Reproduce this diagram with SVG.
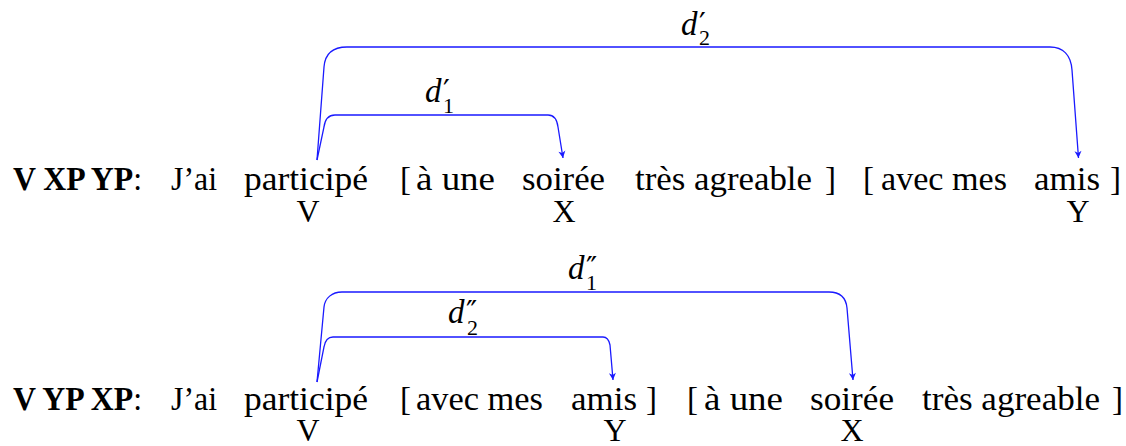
<svg xmlns="http://www.w3.org/2000/svg" width="1126" height="446" viewBox="0 0 1126 446">
<style>
.t{font-family:"Liberation Serif","Times New Roman",serif;font-size:33px;fill:#000}
.b{font-weight:bold}
.lab{font-family:"Liberation Serif","Times New Roman",serif;font-size:32px;fill:#000;text-anchor:middle}
.d{font-family:"Liberation Serif","Times New Roman",serif;font-size:33px;font-style:italic;fill:#000}
.sub{font-family:"Liberation Serif","Times New Roman",serif;font-size:22px;font-style:normal}
.pr{font-family:"DejaVu Sans",sans-serif;font-size:30px;font-style:normal}
.c{fill:none;stroke:#1a1aff;stroke-width:1.3}
</style>
<defs>
<marker id="ah" viewBox="-8 -4 9 8" refX="0" refY="0" markerWidth="9" markerHeight="8" markerUnits="userSpaceOnUse" orient="auto">
<path d="M0,0 L-7,-3.5 L-5,0 L-7,3.5 Z" fill="#1a1aff"/>
</marker>
</defs>
<g id="connectors">
<path class="c" marker-end="url(#ah)" d="M317,160 L324,67 C325,54 333,47 347,47 L1050,47 C1063,47 1071,55 1072,70 L1078.5,158"/>
<path class="c" marker-end="url(#ah)" d="M317,160 L324,127 C325,119 328,115 335,115 L548,115 C554,115 557,119 558,127 L563,158"/>
<path class="c" marker-end="url(#ah)" d="M317,382 L324,307 C325,298 332,292 342,292 L829,292 C840,292 846,298 847,308 L853,380"/>
<path class="c" marker-end="url(#ah)" d="M317,382 L324,347 C325,341 328,337 333,337 L603,337 C607,337 609,340 610,345 L613,380"/>
</g>
<g id="label-d2p">
<text class="d" x="681" y="35">d<tspan class="pr" x="699" y="34">′</tspan><tspan class="sub" x="699" y="45">2</tspan></text>
</g>
<g id="label-d1p">
<text class="d" x="425" y="102">d<tspan class="pr" x="443" y="101">′</tspan><tspan class="sub" x="443" y="113">1</tspan></text>
</g>
<g id="label-d1pp">
<text class="d" x="568" y="279">d<tspan class="pr" x="586" y="278">″</tspan><tspan class="sub" x="586" y="290">1</tspan></text>
</g>
<g id="label-d2pp">
<text class="d" x="448" y="323">d<tspan class="pr" x="466" y="322">″</tspan><tspan class="sub" x="467" y="335">2</tspan></text>
</g>
<g id="row1">
<text class="t" x="13" y="190" textLength="129" lengthAdjust="spacingAndGlyphs"><tspan class="b">V XP YP</tspan>:</text>
<text class="t" x="171" y="190" textLength="46" lengthAdjust="spacingAndGlyphs">J’ai</text>
<text class="t" x="244" y="190" textLength="124" lengthAdjust="spacingAndGlyphs">participé</text>
<text class="t" x="400" y="190">[</text>
<text class="t" x="416" y="190" textLength="79" lengthAdjust="spacingAndGlyphs">à une</text>
<text class="t" x="522" y="190" textLength="83" lengthAdjust="spacingAndGlyphs">soirée</text>
<text class="t" x="635" y="190" textLength="177" lengthAdjust="spacingAndGlyphs">très agreable</text>
<text class="t" x="825" y="190">]</text>
<text class="t" x="863" y="190">[</text>
<text class="t" x="881" y="190" textLength="126" lengthAdjust="spacingAndGlyphs">avec mes</text>
<text class="t" x="1034" y="190" textLength="66" lengthAdjust="spacingAndGlyphs">amis</text>
<text class="t" x="1110" y="190">]</text>
<text class="lab" x="308" y="222">V</text>
<text class="lab" x="564" y="222">X</text>
<text class="lab" x="1078" y="222">Y</text>
</g>
<g id="row2">
<text class="t" x="13" y="410" textLength="129" lengthAdjust="spacingAndGlyphs"><tspan class="b">V YP XP</tspan>:</text>
<text class="t" x="171" y="410" textLength="46" lengthAdjust="spacingAndGlyphs">J’ai</text>
<text class="t" x="244" y="410" textLength="124" lengthAdjust="spacingAndGlyphs">participé</text>
<text class="t" x="400" y="410">[</text>
<text class="t" x="416" y="410" textLength="127" lengthAdjust="spacingAndGlyphs">avec mes</text>
<text class="t" x="571" y="410" textLength="66" lengthAdjust="spacingAndGlyphs">amis</text>
<text class="t" x="646" y="410">]</text>
<text class="t" x="687" y="410">[</text>
<text class="t" x="704" y="410" textLength="79" lengthAdjust="spacingAndGlyphs">à une</text>
<text class="t" x="810" y="410" textLength="84" lengthAdjust="spacingAndGlyphs">soirée</text>
<text class="t" x="922" y="410" textLength="178" lengthAdjust="spacingAndGlyphs">très agreable</text>
<text class="t" x="1112" y="410">]</text>
<text class="lab" x="308" y="441">V</text>
<text class="lab" x="615" y="441">Y</text>
<text class="lab" x="852" y="441">X</text>
</g>
</svg>
